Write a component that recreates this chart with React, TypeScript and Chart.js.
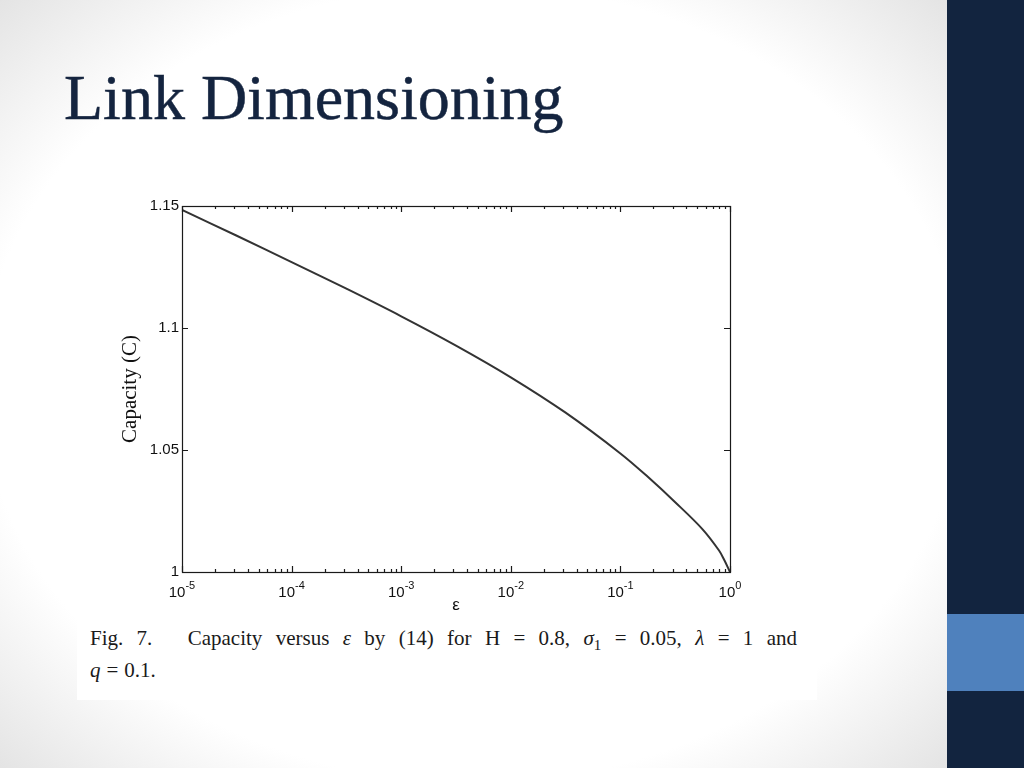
import React, { useEffect, useRef } from "react";
import { Chart, registerables } from "chart.js";

Chart.register(...registerables);

// ---- data ----
const epsilon = [1e-5, 3.162e-5, 1e-4, 3.162e-4, 1e-3, 3.162e-3, 1e-2, 3.162e-2, 1e-1, 0.1778, 0.3162, 0.5623, 0.7943, 0.8913, 1];
const capacity = [1.1484, 1.1378, 1.127, 1.1161, 1.1048, 1.0928, 1.0798, 1.0653, 1.0486, 1.039, 1.0286, 1.0175, 1.0088, 1.0047, 1.0];
const xTickValues = [1e-5, 1e-4, 1e-3, 1e-2, 1e-1, 1];
const xTickExponents = ["-5", "-4", "-3", "-2", "-1", "0"];
const yTickValues = [1, 1.05, 1.1, 1.15];
const yTickLabels = ["1", "1.05", "1.1", "1.15"];

const matlabAxes = {
  id: "matlabAxes",
  afterDatasetsDraw(chart: any) {
    const { ctx, chartArea, scales } = chart;
    const { left, right, top, bottom } = chartArea;
    const x = scales.x;
    const y = scales.y;
    ctx.save();
    ctx.strokeStyle = "#1a1a1a";
    ctx.lineWidth = 1.2;
    ctx.strokeRect(Math.round(left) + 0.5, Math.round(top) + 0.5, Math.round(right - left), Math.round(bottom - top));
    ctx.beginPath();
    const minE = Math.round(Math.log10(x.min));
    const maxE = Math.round(Math.log10(x.max));
    for (let e = minE; e <= maxE; e++) {
      for (let m = 1; m <= 9; m++) {
        if (e === maxE && m > 1) break;
        const v = m * Math.pow(10, e);
        const px = Math.round(x.getPixelForValue(v)) + 0.5;
        const len = m === 1 ? 6 : 3;
        ctx.moveTo(px, bottom);
        ctx.lineTo(px, bottom - len);
        ctx.moveTo(px, top);
        ctx.lineTo(px, top + len);
      }
    }
    yTickValues.forEach((v) => {
      const py = Math.round(y.getPixelForValue(v)) + 0.5;
      ctx.moveTo(left, py);
      ctx.lineTo(left + 6, py);
      ctx.moveTo(right, py);
      ctx.lineTo(right - 6, py);
    });
    ctx.stroke();
    ctx.fillStyle = "#111";
    ctx.textBaseline = "alphabetic";
    ctx.textAlign = "left";
    xTickValues.forEach((v, i) => {
      const px = x.getPixelForValue(v);
      ctx.font = "15px 'Liberation Sans', Arial, sans-serif";
      const wBase = ctx.measureText("10").width;
      ctx.font = "11px 'Liberation Sans', Arial, sans-serif";
      const wExp = ctx.measureText(xTickExponents[i]).width;
      const start = px - (wBase + wExp) / 2;
      ctx.font = "15px 'Liberation Sans', Arial, sans-serif";
      ctx.fillText("10", start, bottom + 25);
      ctx.font = "11px 'Liberation Sans', Arial, sans-serif";
      ctx.fillText(xTickExponents[i], start + wBase, bottom + 17);
    });
    ctx.restore();
  },
};

function CapacityChart() {
  const ref = useRef<HTMLCanvasElement | null>(null);
  useEffect(() => {
    if (!ref.current) return;
    const chart = new Chart(ref.current, {
      type: "line",
      data: {
        datasets: [
          {
            data: epsilon.map((e, i) => ({ x: e, y: capacity[i] })),
            borderColor: "#333333",
            borderWidth: 2,
            pointRadius: 0,
            fill: false,
            tension: 0.35,
          },
        ],
      },
      options: {
        animation: false,
        responsive: false,
        maintainAspectRatio: false,
        layout: { padding: { left: 18, top: 16, right: 20, bottom: 0 } },
        plugins: { legend: { display: false }, tooltip: { enabled: false } },
        scales: {
          x: {
            type: "logarithmic",
            min: 1e-5,
            max: 1,
            grid: { display: false, drawTicks: false },
            border: { display: false },
            ticks: { display: false },
            afterBuildTicks: (scale: any) => {
              scale.ticks = xTickValues.map((v) => ({ value: v }));
            },
            afterFit: (scale: any) => {
              scale.height = 44;
            },
            title: {
              display: true,
              text: "ε",
              color: "#111",
              padding: { top: 0, bottom: 0 },
              font: { family: "'Liberation Sans', Arial, sans-serif", size: 17 },
            },
          },
          y: {
            type: "linear",
            min: 1,
            max: 1.15,
            grid: { display: false, drawTicks: false },
            border: { display: false },
            afterBuildTicks: (scale: any) => {
              scale.ticks = yTickValues.map((v) => ({ value: v }));
            },
            afterFit: (scale: any) => {
              scale.width = 64;
            },
            ticks: {
              padding: 3,
              color: "#111",
              font: { family: "'Liberation Sans', Arial, sans-serif", size: 15 },
              callback: (_v: any, i: number) => yTickLabels[i],
            },
            title: {
              display: true,
              text: "Capacity (C)",
              color: "#111",
              padding: { top: 0, bottom: 0 },
              font: { family: "'Liberation Serif', 'Times New Roman', serif", size: 21 },
            },
          },
        },
      },
      plugins: [matlabAxes],
    });
    return () => chart.destroy();
  }, []);
  return <canvas ref={ref} width={650} height={426} style={{ position: "absolute", left: 100, top: 190, width: 650, height: 426 }} />;
}

export default function App() {
  return (
    <div
      style={{
        position: "fixed",
        left: 0,
        top: 0,
        width: 1024,
        height: 768,
        overflow: "hidden",
        background: "#fff",
      }}
    >
      <div
        style={{
          position: "absolute",
          left: 0,
          top: 0,
          width: 947,
          height: 768,
          background: "radial-gradient(ellipse 72% 72% at 50% 50%, #ffffff 72%, #e2e2e2 100%)",
        }}
      />
      <div style={{ position: "absolute", left: 947, top: 0, width: 77, height: 768, background: "#12243f" }} />
      <div style={{ position: "absolute", left: 947, top: 614, width: 77, height: 77, background: "#4f81bd" }} />
      <div
        style={{
          position: "absolute",
          left: 64,
          top: 66,
          fontFamily: "'Liberation Serif', 'Times New Roman', serif",
          fontSize: 64,
          color: "#14243f",
          whiteSpace: "nowrap",
          lineHeight: 1,
          WebkitTextStroke: "0.5px #14243f",
        }}
      >
        Link Dimensioning
      </div>
      <div style={{ position: "absolute", left: 77, top: 182, width: 740, height: 518, background: "#ffffff" }} />
      <CapacityChart />
      <div
        style={{
          position: "absolute",
          left: 90,
          top: 626,
          width: 707,
          fontFamily: "'Liberation Serif', 'Times New Roman', serif",
          fontSize: 21,
          lineHeight: "25px",
          color: "#1a1a1a",
        }}
      >
        <div style={{ textAlign: "justify", textAlignLast: "justify", whiteSpace: "nowrap" }}>
          <span style={{ marginRight: 22 }}>Fig. 7.</span> Capacity versus <i>ε</i> by (14) for H = 0.8, <i>σ</i>
          <sub style={{ fontSize: 15, color: "#1a1a1a" }}>1</sub> = 0.05, <i>λ</i> = 1 and
        </div>
        <div>
          <i>q</i>
          <span style={{ margin: "0 6px" }}>=</span>0.1.
        </div>
      </div>
    </div>
  );
}
